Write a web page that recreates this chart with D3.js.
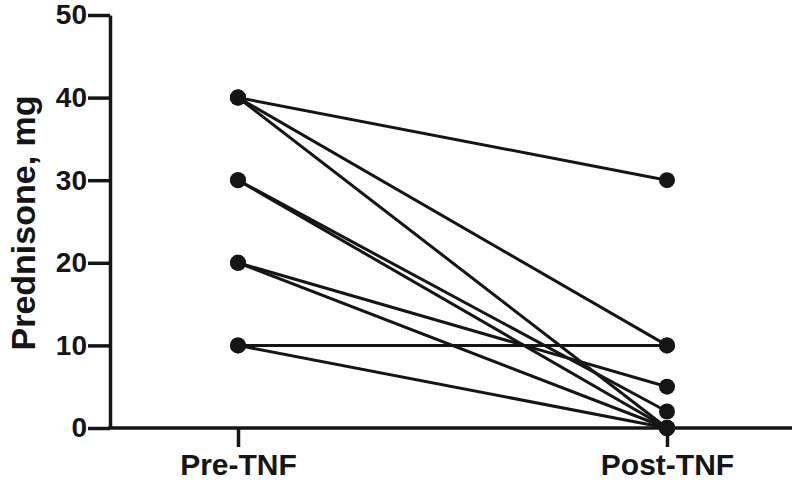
<!DOCTYPE html>
<html lang="en">
<head>
<meta charset="UTF-8">
<title>Prednisone Pre/Post TNF</title>
<script src="https://d3js.org/d3.v7.min.js"></script>
<style>
  body { margin: 0; background: #fff; }
  svg { font-family: "Liberation Sans", Arial, sans-serif; }
  .tick text { font-weight: bold; fill: #151515; }
  .axis path, .axis line { stroke: #151515; stroke-width: 3.5px; }
</style>
</head>
<body>
<svg width="800" height="503"></svg>
<script>
// groups on the x axis
const groups = ["Pre-TNF", "Post-TNF"];
// one value per patient before and after TNF
const preValues  = [40, 40, 40, 30, 30, 20, 20, 10, 10];
const postValues = [30, 10,  0,  2,  0,  5,  0, 10,  0];
const yTicks = [0, 10, 20, 30, 40, 50];

const margin = {top: 15, right: 8, bottom: 75, left: 110},
      width = 800 - margin.left - margin.right,
      height = 503 - margin.top - margin.bottom;

const svg = d3.select("svg")
  .append("g")
  .attr("transform", "translate(" + margin.left + "," + margin.top + ")");

const x = d3.scalePoint()
  .domain(groups)
  .range([128, 557]);

const y = d3.scaleLinear()
  .domain([0, 50])
  .range([height, 0]);

// y axis
const yAxis = svg.append("g")
  .attr("class", "axis")
  .call(d3.axisLeft(y).tickValues(yTicks).tickSize(22).tickSizeOuter(0).tickPadding(1));
yAxis.selectAll(".tick text").style("font-size", "28px");

// x axis
const xAxis = svg.append("g")
  .attr("class", "axis")
  .attr("transform", "translate(0," + height + ")")
  .call(d3.axisBottom(x).tickSize(19).tickSizeOuter(0).tickPadding(7));
xAxis.select(".domain").remove();
xAxis.append("line")
  .attr("x1", -1.75).attr("x2", width)
  .attr("stroke", "#151515").attr("stroke-width", 3.5);
xAxis.selectAll(".tick text").style("font-size", "30px");

// y title
svg.append("text")
  .attr("transform", "rotate(-90)")
  .attr("x", -208)
  .attr("y", -75)
  .style("text-anchor", "middle")
  .style("font-size", "34px")
  .style("font-weight", "bold")
  .style("fill", "#151515")
  .text("Prednisone, mg");

const pairs = preValues.map((v, i) => ({pre: v, post: postValues[i]}));

svg.selectAll(".pair")
  .data(pairs)
  .enter().append("line")
  .attr("class", "pair")
  .attr("x1", x("Pre-TNF")).attr("y1", d => y(d.pre))
  .attr("x2", x("Post-TNF")).attr("y2", d => y(d.post))
  .attr("stroke", "#151515")
  .attr("stroke-width", 3);

const dots = [];
pairs.forEach(d => {
  dots.push({g: "Pre-TNF", v: d.pre});
  dots.push({g: "Post-TNF", v: d.post});
});

svg.selectAll(".dot")
  .data(dots)
  .enter().append("circle")
  .attr("class", "dot")
  .attr("cx", d => x(d.g))
  .attr("cy", d => y(d.v))
  .attr("r", 8)
  .attr("fill", "#151515");
</script>
</body>
</html>
